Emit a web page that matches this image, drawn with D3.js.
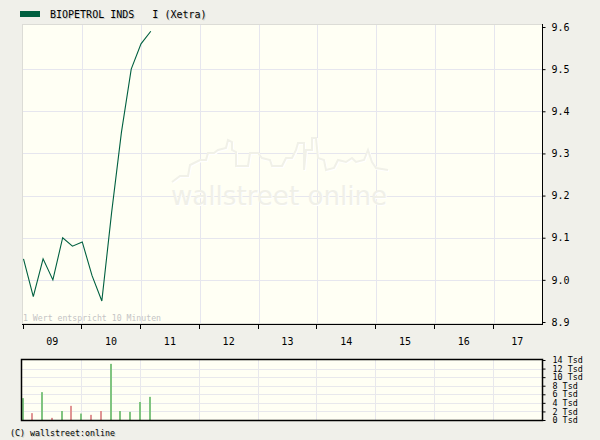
<!DOCTYPE html>
<html><head><meta charset="utf-8">
<script src="https://cdn.jsdelivr.net/npm/d3@7/dist/d3.min.js"></script>
<style>
html,body{margin:0;padding:0;background:#f0f0ea;}
svg{display:block;}
text{font-family:"DejaVu Sans Mono",monospace;white-space:pre;}
</style></head>
<body><svg id="c" width="600" height="440"></svg>
<script>
const title = "BIOPETROL INDS   I (Xetra)";
const times = ["09:00","09:10","09:20","09:30","09:40","09:50","10:00","10:10","10:20","10:30","10:40","10:50","11:00","11:10"];
const prices = [9.05, 8.96, 9.05, 9.00, 9.10, 9.08, 9.09, 9.01, 8.95, 9.16, 9.35, 9.50, 9.56, 9.59];
const volumes = [5.1, 1.6, 6.5, 0.5, 2.1, 3.3, 1.5, 1.2, 2.1, 13.1, 2.1, 1.9, 4.2, 5.4];
const hourLabels = ["09","10","11","12","13","14","15","16","17"];
const priceTicks = [8.9, 9.0, 9.1, 9.2, 9.3, 9.4, 9.5, 9.6];
const volTicks = [0, 2, 4, 6, 8, 10, 12, 14];

const svg = d3.select("#c");
const toMin = t => { const [h,m] = t.split(":").map(Number); return (h-9)*60+m; };

const L = 22, R = 542, T = 24, B = 323;
const VT = 360, VB = 420;
const x = d3.scaleLinear().domain([0, 530]).range([23.5, 542.5]);
const y = d3.scaleLinear().domain([8.9, 9.6]).range([322, 27]);
const yv = d3.scaleLinear().domain([0, 14]).range([VB, VT]);
const hourTicks = d3.range(0, 9).map(h => h*60);

// Main plot background
svg.append("rect").attr("x", L).attr("y", T).attr("width", R-L).attr("height", B-T)
  .attr("fill", "#fffff4").attr("stroke", "#dcdcd6").attr("stroke-width", 1)
  .attr("transform","translate(0.5,0.5)");

const grid = svg.append("g").attr("stroke", "#e6e6ee").attr("stroke-width", 1);
hourTicks.slice(1).forEach(m => {
  const xx = Math.round(x(m)) + 0.5;
  if (xx < R) grid.append("line").attr("x1", xx).attr("x2", xx).attr("y1", T+1).attr("y2", B);
});
priceTicks.slice(1, -1).forEach(v => {
  const yy = Math.round(y(v)) + 0.5;
  grid.append("line").attr("x1", L+1).attr("x2", R).attr("y1", yy).attr("y2", yy);
});

// Watermark
const wm = svg.append("g");
const skyline = "M172,182 L180,176 L188,176 L190,165 L200,160 L206,160 L208,153 L214,153 L218,150 L226,148 L228,140 L232,142 L232,150 L236,152 L236,166 L248,166 L250,153 L258,153 L262,158 L270,160 L272,166 L282,166 L286,158 L292,158 L296,150 L298,143 L304,143 L304,170 L306,150 L312,150 L312,138 L316,138 L318,158 L324,160 L326,170 L334,168 L338,160 L346,162 L352,158 L356,162 L364,160 L368,150 L372,162 L376,168 L388,170";
wm.append("path").attr("d", skyline).attr("transform","translate(1,1)")
  .attr("fill", "none").attr("stroke", "#ffffff").attr("stroke-width", 2);
wm.append("path").attr("d", skyline)
  .attr("fill", "none").attr("stroke", "#f1f1e8").attr("stroke-width", 2);
wm.append("text").attr("x", 279).attr("y", 205).attr("text-anchor", "middle")
  .style("font-family", "'DejaVu Sans', sans-serif").attr("font-size", 26)
  .attr("textLength", 216).attr("lengthAdjust","spacingAndGlyphs")
  .attr("fill", "#ffffff").attr("dx", 1).attr("dy", 1).text("wallstreet online");
wm.append("text").attr("x", 279).attr("y", 205).attr("text-anchor", "middle")
  .style("font-family", "'DejaVu Sans', sans-serif").attr("font-size", 26)
  .attr("textLength", 216).attr("lengthAdjust","spacingAndGlyphs")
  .attr("fill", "#f0f0e8").text("wallstreet online");

// Price line
const line = d3.line().x((d,i) => x(toMin(times[i]))).y(d => y(d));
svg.append("path").datum(prices).attr("d", line)
  .attr("fill", "none").attr("stroke", "#006040").attr("stroke-width", 1.1);

// note
svg.append("text").attr("x", 23).attr("y", 321).attr("font-size", 8.2)
  .attr("fill", "#c4c4c4").text("1 Wert entspricht 10 Minuten");

// Right price axis
const yAxis = d3.axisRight(y).tickValues(priceTicks).tickFormat(d3.format(".1f")).tickSize(3).tickPadding(6);
const ga = svg.append("g").attr("transform", `translate(${R+0.5},0)`).call(yAxis);
ga.select(".domain").attr("d", `M0,${T}V${B+1}`).attr("stroke", "#000");
ga.selectAll("text").attr("font-size", 10).attr("fill", "#000").style("font-family","'DejaVu Sans Mono',monospace");

// Bottom axis
svg.append("line").attr("x1", L).attr("x2", R+1).attr("y1", 324.5).attr("y2", 324.5).attr("stroke", "#000");
const bt = svg.append("g");
hourTicks.forEach(m => {
  const xx = Math.round(x(m)) - 0.5;
  bt.append("line").attr("x1", xx).attr("x2", xx).attr("y1", 324).attr("y2", 329).attr("stroke", "#000");
});
hourLabels.forEach((lab, i) => {
  const a = x(hourTicks[i]), b = Math.min(x(hourTicks[i] + 60), R);
  bt.append("text").attr("x", (a+b)/2 - 0.5).attr("y", 345).attr("text-anchor", "middle")
    .attr("font-size", 10).attr("fill", "#000").text(lab);
});

// Volume panel
svg.append("rect").attr("x", L).attr("y", VT).attr("width", R-L).attr("height", VB-VT)
  .attr("fill", "#fffff4");
const vg = svg.append("g").attr("stroke", "#e8e8ec").attr("stroke-width", 1);
hourTicks.slice(1).forEach(m => {
  const xx = Math.round(x(m)) - 0.5;
  if (xx < R) vg.append("line").attr("x1", xx).attr("x2", xx).attr("y1", VT).attr("y2", VB);
});
volTicks.slice(1, -1).forEach(v => {
  const yy = Math.round(yv(v)) + 0.5;
  vg.append("line").attr("x1", L).attr("x2", R).attr("y1", yy).attr("y2", yy);
});
svg.append("g").selectAll("rect").data(volumes).join("rect")
  .attr("x", (d,i) => Math.round(x(toMin(times[i]))) - 2)
  .attr("width", 2)
  .attr("y", d => yv(d))
  .attr("height", d => VB - yv(d))
  .attr("fill", (d,i) => (i > 0 && prices[i] < prices[i-1]) ? "#e09494" : "#80c480");
svg.append("rect").attr("x", L - 0.5).attr("y", VT - 0.5).attr("width", R-L+1).attr("height", VB-VT+1)
  .attr("fill", "none").attr("stroke", "#000").attr("stroke-width", 1.5);
const vAxis = d3.axisRight(yv).tickValues(volTicks).tickFormat(d => d + " Tsd").tickSize(3).tickPadding(7);
const gv = svg.append("g").attr("transform", `translate(${R+0.5},0)`).call(vAxis);
gv.select(".domain").remove();
gv.selectAll("text").attr("font-size", 8.4).attr("fill", "#000").style("font-family","'DejaVu Sans Mono',monospace");

// Legend / title
svg.append("rect").attr("x", 20).attr("y", 11).attr("width", 20).attr("height", 6).attr("fill", "#006040");
svg.append("text").attr("x", 51).attr("y", 19).attr("font-size", 10).attr("fill", "#c8c8c2").text(title);
svg.append("text").attr("x", 50).attr("y", 18).attr("font-size", 10).attr("fill", "#000").text(title);

// Copyright
svg.append("text").attr("x", 11).attr("y", 437).attr("font-size", 8.3).attr("fill", "#c8c8c2").text("(C) wallstreet:online");
svg.append("text").attr("x", 10).attr("y", 436).attr("font-size", 8.3).attr("fill", "#000").text("(C) wallstreet:online");
</script></body></html>
